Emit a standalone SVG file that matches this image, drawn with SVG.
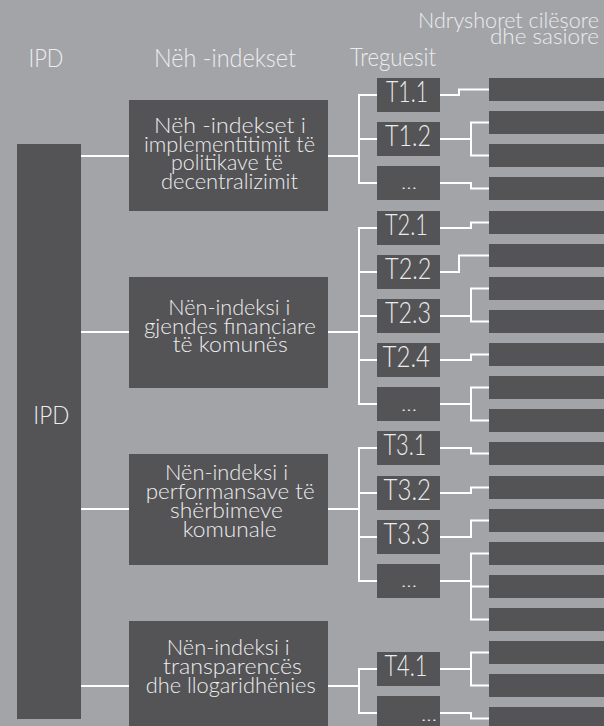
<svg xmlns="http://www.w3.org/2000/svg" width="604" height="726" viewBox="0 0 604 726">
<style>
.box{fill:#545456}
.bar{fill:#545456}
.t{font-family:Lato,"Open Sans",Inter,"Liberation Sans",sans-serif;font-weight:300;fill:#ececee}
.hd{font-size:25px}
.hr{font-size:22px}
.nd{font-size:22px}
.tl{font-size:29px}
.dots{font-size:16px}
.cn{fill:none;stroke:#ffffff;stroke-width:2}
</style>
<rect x="0" y="0" width="604" height="726" fill="#a3a4a8"/>
<g id="headers">
<text class="t hd" x="28.5" y="67.3" textLength="35" lengthAdjust="spacingAndGlyphs">IPD</text>
<text class="t hd" x="154" y="67.3" textLength="142" lengthAdjust="spacingAndGlyphs">Nëh -indekset</text>
<text class="t hd" x="350" y="66" textLength="86" lengthAdjust="spacingAndGlyphs">Treguesit</text>
<text class="t hr" x="418" y="27.7" textLength="181" lengthAdjust="spacingAndGlyphs">Ndryshoret cilësore</text>
<text class="t hr" x="490" y="44.3" textLength="109" lengthAdjust="spacingAndGlyphs">dhe sasiore</text>
</g>
<g id="connectors">
<path class="cn" d="M81 156H129M81 332H129M81 509H129M81 686H129"/>
<path class="cn" d="M328 156H359M328 332H359M328 509H359M328 686H359"/>
<path class="cn" d="M377 95H359V183H377M359 139H377"/>
<path class="cn" d="M377 228H359V404H377M359 272H377M359 316H377M359 360H377"/>
<path class="cn" d="M377 448H359V581H377M359 493H377M359 537H377"/>
<path class="cn" d="M377 669H359V713H377"/>
<path class="cn" d="M440 95H459V89.5H489"/>
<path class="cn" d="M440 139H471M489 122.5H471V155.5H489"/>
<path class="cn" d="M440 183H471V188.5H489"/>
<path class="cn" d="M440 228H471V222.5H489"/>
<path class="cn" d="M440 272H459V255.5H489"/>
<path class="cn" d="M440 316H471M489 288.5H471V321.5H489"/>
<path class="cn" d="M440 360H471V354.5H489"/>
<path class="cn" d="M440 404H471M489 387.5H471V420.5H489"/>
<path class="cn" d="M440 448H471V453.5H489"/>
<path class="cn" d="M440 493H471V487.5H489"/>
<path class="cn" d="M440 537H471V520.5H489"/>
<path class="cn" d="M440 581H471M489 553.5H471V619.5H489M471 586.5H489"/>
<path class="cn" d="M440 669H471M489 652.5H471V685.5H489"/>
<path class="cn" d="M440 713H471V718.5H489"/>
</g>
<g id="ipd">
<rect class="box" x="17" y="144" width="64" height="575"/>
<text class="t hd" x="33.3" y="424.3" textLength="36" lengthAdjust="spacingAndGlyphs">IPD</text>
</g>
<g id="sub1">
<rect class="box" x="129" y="100" width="199" height="111"/>
<text class="t nd" x="154" y="132.7" textLength="152" lengthAdjust="spacingAndGlyphs">Nëh -indekset i</text>
<text class="t nd" x="144" y="151.5" textLength="171" lengthAdjust="spacingAndGlyphs">implementitimit të</text>
<text class="t nd" x="171" y="170.3" textLength="112" lengthAdjust="spacingAndGlyphs">politikave të</text>
<text class="t nd" x="161" y="189.2" textLength="137" lengthAdjust="spacingAndGlyphs">decentralizimit</text>
</g>
<g id="sub2">
<rect class="box" x="129" y="277" width="199" height="111"/>
<text class="t nd" x="168.3" y="315" textLength="122" lengthAdjust="spacingAndGlyphs">Nën-indeksi i</text>
<text class="t nd" x="144" y="333.7" textLength="172" lengthAdjust="spacingAndGlyphs">gjendes financiare</text>
<text class="t nd" x="172.7" y="352.3" textLength="115" lengthAdjust="spacingAndGlyphs">të komunës</text>
</g>
<g id="sub3">
<rect class="box" x="129" y="454" width="199" height="111"/>
<text class="t nd" x="165" y="480" textLength="123" lengthAdjust="spacingAndGlyphs">Nën-indeksi i</text>
<text class="t nd" x="145.7" y="499" textLength="169" lengthAdjust="spacingAndGlyphs">performansave të</text>
<text class="t nd" x="170" y="518" textLength="113" lengthAdjust="spacingAndGlyphs">shërbimeve</text>
<text class="t nd" x="182.7" y="536.7" textLength="94" lengthAdjust="spacingAndGlyphs">komunale</text>
</g>
<g id="sub4">
<rect class="box" x="129" y="621" width="199" height="105"/>
<text class="t nd" x="166.7" y="655" textLength="123" lengthAdjust="spacingAndGlyphs">Nën-indeksi i</text>
<text class="t nd" x="163" y="674" textLength="139" lengthAdjust="spacingAndGlyphs">transparencës</text>
<text class="t nd" x="145.7" y="693.3" textLength="170" lengthAdjust="spacingAndGlyphs">dhe llogaridhënies</text>
</g>
<g id="t11"><rect class="box" x="377" y="78" width="63" height="34"/><text class="t tl" x="386" y="102.3" textLength="42" lengthAdjust="spacingAndGlyphs">T1.1</text></g>
<g id="t12"><rect class="box" x="377" y="122" width="63" height="34"/><text class="t tl" x="385" y="146.3" textLength="46" lengthAdjust="spacingAndGlyphs">T1.2</text></g>
<g id="t1x"><rect class="box" x="377" y="166" width="63" height="34"/><text class="t dots" x="401" y="188.5" textLength="16" lengthAdjust="spacingAndGlyphs">...</text></g>
<g id="t21"><rect class="box" x="377" y="211" width="63" height="34"/><text class="t tl" x="385" y="235.3" textLength="43" lengthAdjust="spacingAndGlyphs">T2.1</text></g>
<g id="t22"><rect class="box" x="377" y="255" width="63" height="34"/><text class="t tl" x="385" y="279.3" textLength="46.5" lengthAdjust="spacingAndGlyphs">T2.2</text></g>
<g id="t23"><rect class="box" x="377" y="299" width="63" height="34"/><text class="t tl" x="385" y="323.3" textLength="46" lengthAdjust="spacingAndGlyphs">T2.3</text></g>
<g id="t24"><rect class="box" x="377" y="343" width="63" height="34"/><text class="t tl" x="382.5" y="367.3" textLength="47.5" lengthAdjust="spacingAndGlyphs">T2.4</text></g>
<g id="t2x"><rect class="box" x="377" y="387" width="63" height="34"/><text class="t dots" x="401" y="411" textLength="16" lengthAdjust="spacingAndGlyphs">...</text></g>
<g id="t31"><rect class="box" x="377" y="431" width="63" height="34"/><text class="t tl" x="383.5" y="455.3" textLength="43" lengthAdjust="spacingAndGlyphs">T3.1</text></g>
<g id="t32"><rect class="box" x="377" y="476" width="63" height="34"/><text class="t tl" x="383.5" y="500.3" textLength="47.5" lengthAdjust="spacingAndGlyphs">T3.2</text></g>
<g id="t33"><rect class="box" x="377" y="520" width="63" height="34"/><text class="t tl" x="383.5" y="544.3" textLength="46.5" lengthAdjust="spacingAndGlyphs">T3.3</text></g>
<g id="t3x"><rect class="box" x="377" y="564" width="63" height="34"/><text class="t dots" x="401" y="586.7" textLength="16" lengthAdjust="spacingAndGlyphs">...</text></g>
<g id="t41"><rect class="box" x="377" y="652" width="63" height="34"/><text class="t tl" x="384.5" y="676.3" textLength="43" lengthAdjust="spacingAndGlyphs">T4.1</text></g>
<g id="t4x"><rect class="box" x="377" y="696" width="63" height="34"/><text class="t dots" x="421" y="720.7" textLength="16" lengthAdjust="spacingAndGlyphs">...</text></g>
<g id="vars">
<rect class="bar" x="489" y="78" width="115" height="23"/>
<rect class="bar" x="489" y="111" width="115" height="23"/>
<rect class="bar" x="489" y="144" width="115" height="23"/>
<rect class="bar" x="489" y="177" width="115" height="23"/>
<rect class="bar" x="489" y="211" width="115" height="23"/>
<rect class="bar" x="489" y="244" width="115" height="23"/>
<rect class="bar" x="489" y="277" width="115" height="23"/>
<rect class="bar" x="489" y="310" width="115" height="23"/>
<rect class="bar" x="489" y="343" width="115" height="23"/>
<rect class="bar" x="489" y="376" width="115" height="23"/>
<rect class="bar" x="489" y="409" width="115" height="23"/>
<rect class="bar" x="489" y="442" width="115" height="23"/>
<rect class="bar" x="489" y="476" width="115" height="23"/>
<rect class="bar" x="489" y="509" width="115" height="23"/>
<rect class="bar" x="489" y="542" width="115" height="23"/>
<rect class="bar" x="489" y="575" width="115" height="23"/>
<rect class="bar" x="489" y="608" width="115" height="23"/>
<rect class="bar" x="489" y="641" width="115" height="23"/>
<rect class="bar" x="489" y="674" width="115" height="23"/>
<rect class="bar" x="489" y="707" width="115" height="23"/>
</g>
</svg>
